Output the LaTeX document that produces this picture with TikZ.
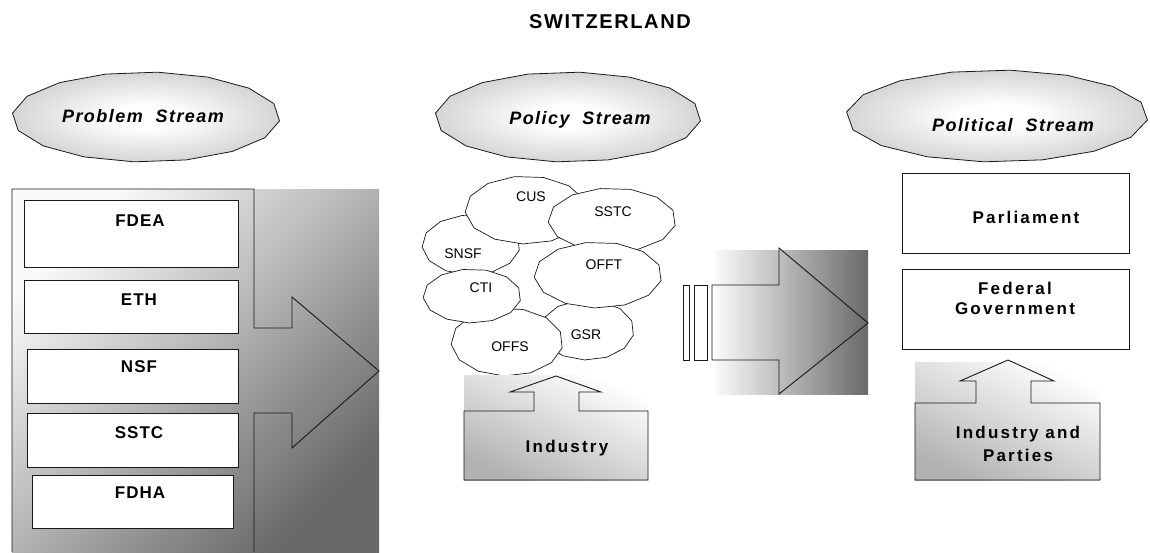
\documentclass[tikz,border=0pt]{standalone}
\usepackage{fontspec}
\setmainfont{Liberation Sans}
\newfontfamily\trackfont[LetterSpace=13]{Liberation Sans}
\newfontfamily\midtrack[LetterSpace=6]{Liberation Sans}
\newfontfamily\elltrack[LetterSpace=8]{Liberation Sans}
\usetikzlibrary{shadows}
\definecolor{edgegray}{RGB}{158,158,158}
\definecolor{darkgrad}{RGB}{105,105,105}
\definecolor{lightgrad}{RGB}{250,250,250}
\definecolor{indgrad}{RGB}{178,178,178}
\definecolor{linecol}{RGB}{25,25,25}
\pgfdeclareradialshading{ellshade}{\pgfpointorigin}{color(0bp)=(white); color(6bp)=(white); color(50bp)=(edgegray); color(75bp)=(edgegray)}
\newcommand\streamell[4]{\shadedraw[ellst] plot[domain=5:365,samples=17] ({#1+#3*cos(\x)},{#2+#4*sin(\x)}) -- cycle;}
\newcommand\cloudpoly[4]{\filldraw[cloudst] plot[domain=10:370,samples=14] ({#1+#3*cos(\x)},{#2+#4*sin(\x)}) -- cycle;}
\begin{document}
\begin{tikzpicture}[x=1pt,y=-1pt,
  outl/.style={draw=linecol, line width=0.9pt, line join=miter},
  ellst/.style={shading=ellshade, draw=linecol, line width=0.8pt},
  cloudst/.style={fill=white, draw=linecol, line width=0.7pt},
  pbox/.style={draw=linecol, fill=white, line width=0.9pt, inner sep=0pt, outer sep=0pt,
     drop shadow={shadow xshift=1.2pt, shadow yshift=-1.2pt, fill=black, opacity=0.35}},
  blbl/.style={font=\midtrack\bfseries\fontsize{17}{20}\selectfont, inner sep=0pt, align=center},
  tlbl/.style={font=\trackfont\bfseries\fontsize{17}{21}\selectfont, inner sep=0pt, align=center},
  clbl/.style={font=\fontsize{14}{16}\selectfont, inner sep=0pt},
  elbl/.style={font=\elltrack\bfseries\itshape\fontsize{18}{20}\selectfont, inner sep=0pt},
  titlest/.style={font=\elltrack\bfseries\fontsize{20}{22}\selectfont, inner sep=0pt}]
\useasboundingbox (0,0) rectangle (1150,552);
\fill[white] (0,0) rectangle (1150,552);

% title
\node[titlest] (title) at (610,22) {SWITZERLAND};

% stream ellipses
\streamell{146}{117}{134}{45}
\node[elbl] (probT) at (143,116) {Problem\ \ Stream};
\streamell{568}{117}{133}{45}
\node[elbl] (poliT) at (580,120) {Policy\ \ Stream};
\streamell{997}{116}{151}{46}
\node[elbl] (politT) at (1013,125) {Political\ \ Stream};

% problem stream panel
\shade[shading=axis, top color=lightgrad, bottom color=darkgrad, shading angle=45] (12,189) rectangle (379,552);
\draw[outl] (12,552) -- (12,189) -- (254,189) -- (254,328) -- (292,328) -- (292,297) -- (379,371) -- (292,448) -- (292,413) -- (254,413) -- (254,552);
\node[pbox, minimum width=214, minimum height=67] (fdea) at (131,233.5) {};
\node[blbl] (fdeaT) at (140,221) {FDEA};
\node[pbox, minimum width=214, minimum height=53] (eth) at (131,306.5) {};
\node[blbl] (ethT) at (139,300) {ETH};
\node[pbox, minimum width=211, minimum height=54] (nsf) at (132.5,376) {};
\node[blbl] (nsfT) at (139,367) {NSF};
\node[pbox, minimum width=211, minimum height=54] (sstcA) at (132.5,440) {};
\node[blbl] (sstcAT) at (139,433) {SSTC};
\node[pbox, minimum width=201, minimum height=53] (fdha) at (132.5,501.5) {};
\node[blbl] (fdhaT) at (140,493) {FDHA};

% policy stream clouds
\cloudpoly{471}{245}{49}{30}
\node[clbl] (snsf) at (463,254) {SNSF};
\cloudpoly{526}{210}{61}{34}
\node[clbl] (cus) at (531,197) {CUS};
\cloudpoly{612}{220}{64}{32}
\node[clbl] (sstcB) at (613,212) {SSTC};
\cloudpoly{587}{330}{47}{30}
\node[clbl] (gsr) at (586,335) {GSR};
\cloudpoly{507}{342}{56}{34}
\node[clbl] (offs) at (510,347) {OFFS};
\cloudpoly{472}{296}{49}{27}
\node[clbl] (cti) at (481,288) {CTI};
\cloudpoly{598}{275}{64}{33}
\node[clbl] (offt) at (604,265) {OFFT};

% industry
\shade[shading=axis, top color=white, bottom color=indgrad, shading angle=-25] (464,375) rectangle (648,480);
\draw[outl] (464,411) -- (534,411) -- (534,392) -- (510,392) -- (556,376) -- (601,392) -- (579,392) -- (579,411) -- (648,411) -- (648,480) -- (464,480) -- cycle;
\node[tlbl] (ind) at (567,448) {Industry};

% middle arrow
\shade[left color=lightgrad, right color=darkgrad] (715,250) rectangle (868,394);
\draw[outl] (712,285) -- (779,285) -- (779,248) -- (868,323) -- (779,394) -- (779,360) -- (712,360) -- cycle;
\node[pbox, minimum width=6, minimum height=75] (barA) at (686,322.5) {};
\node[pbox, minimum width=13, minimum height=75] (barB) at (700.5,322.5) {};

% political stream
\node[pbox, minimum width=227, minimum height=80] (parl) at (1015.5,213) {};
\node[tlbl] (parlT) at (1026,217) {Parliament};
\node[pbox, minimum width=227, minimum height=80] (fedg) at (1015.5,309) {};
\node[tlbl, font=\trackfont\bfseries\fontsize{17}{20}\selectfont] (fedgT) at (1015,298) {Federal\\Government};
\shade[shading=axis, top color=white, bottom color=indgrad, shading angle=-25] (915,362) rectangle (1100,480);
\draw[outl] (915,403) -- (976,403) -- (976,381) -- (960,381) -- (1008,360) -- (1054,381) -- (1031,381) -- (1031,403) -- (1100,403) -- (1100,480) -- (915,480) -- cycle;
\node[tlbl, font=\trackfont\bfseries\fontsize{17}{23}\selectfont] (indp) at (1018,443.5) {Industry and\\Parties};
\end{tikzpicture}
\end{document}
